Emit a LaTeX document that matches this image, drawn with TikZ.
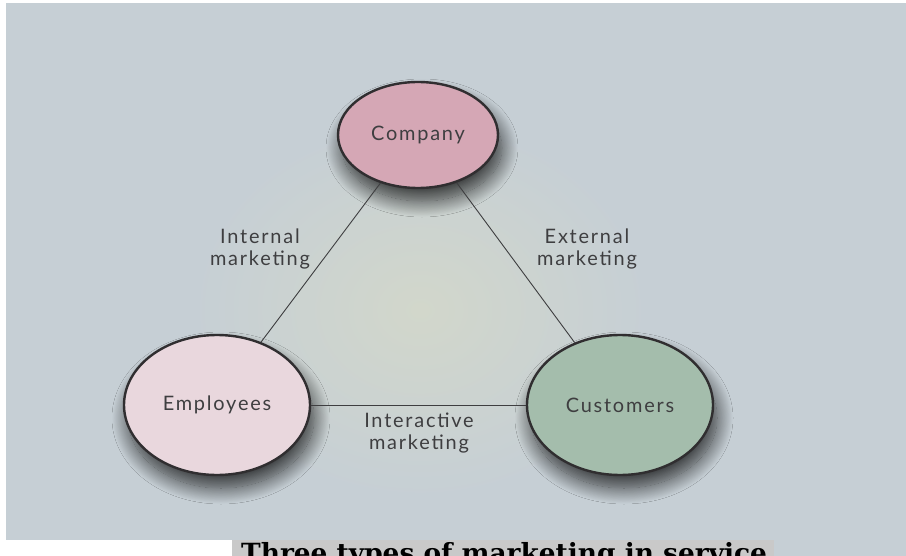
\documentclass[tikz,border=0pt]{standalone}
\usepackage{fontspec}
\setmainfont{Lato}[LetterSpace=9]
\newfontfamily\capfont{DejaVu Serif}
\usetikzlibrary{shapes.geometric,shadows.blur}
\definecolor{paper}{RGB}{198,207,213}
\definecolor{glow}{RGB}{210,215,203}
\definecolor{capgray}{RGB}{201,201,201}
\definecolor{rose}{RGB}{213,167,181}
\definecolor{blush}{RGB}{233,215,221}
\definecolor{sage}{RGB}{164,189,172}
\definecolor{rim}{RGB}{48,46,48}
\definecolor{ink}{RGB}{62,62,64}
\newcommand{\labelsize}{\fontsize{20}{23}\selectfont}

\begin{document}
\begin{tikzpicture}[x=1bp, y=-1bp,
  party/.style={ellipse, draw=rim, line width=2.4bp, inner sep=0pt,
    minimum width=186bp, minimum height=140bp, font=\labelsize, text=ink,
    blur shadow={shadow xshift=4bp, shadow yshift=-13bp, shadow blur radius=16bp,
      shadow blur steps=24, shadow opacity=75}},
  link/.style={draw=ink, line width=0.9bp},
  tag/.style={align=center, font=\labelsize, text=ink}]
\useasboundingbox (0,0) rectangle (906,556);
\fill[paper] (6,3) rectangle (906,540);
\fill[paper] (774,540) rectangle (906,556);
\shade[inner color=glow, outer color=paper] (420,310) ellipse (230 and 190);
\fill[capgray] (232,540) rectangle (774,556);

\node[party, fill=rose, minimum width=160bp, minimum height=106bp] (company) at (418,135) {Company};
\node[party, fill=blush] (employees) at (217,405) {Employees};
\node[party, fill=sage] (customers) at (620,405) {Customers};

\draw[link] (company.232) -- (employees.55);
\draw[link] (company.309) -- (customers.126);
\draw[link] (employees.east) -- (customers.west);

\node[tag] (internal) at (260,249) {Internal\\marketing};
\node[tag] (external) at (587,249) {External\\marketing};
\node[tag] (interactive) at (419,433) {Interactive\\marketing};

\begin{scope}
\clip (232,540) rectangle (774,556);
\node[anchor=north west, inner sep=0pt, font=\capfont\bfseries\fontsize{26.5}{30}\selectfont] (caption) at (241,542) {Three types of marketing in service};
\end{scope}
\end{tikzpicture}
\end{document}
